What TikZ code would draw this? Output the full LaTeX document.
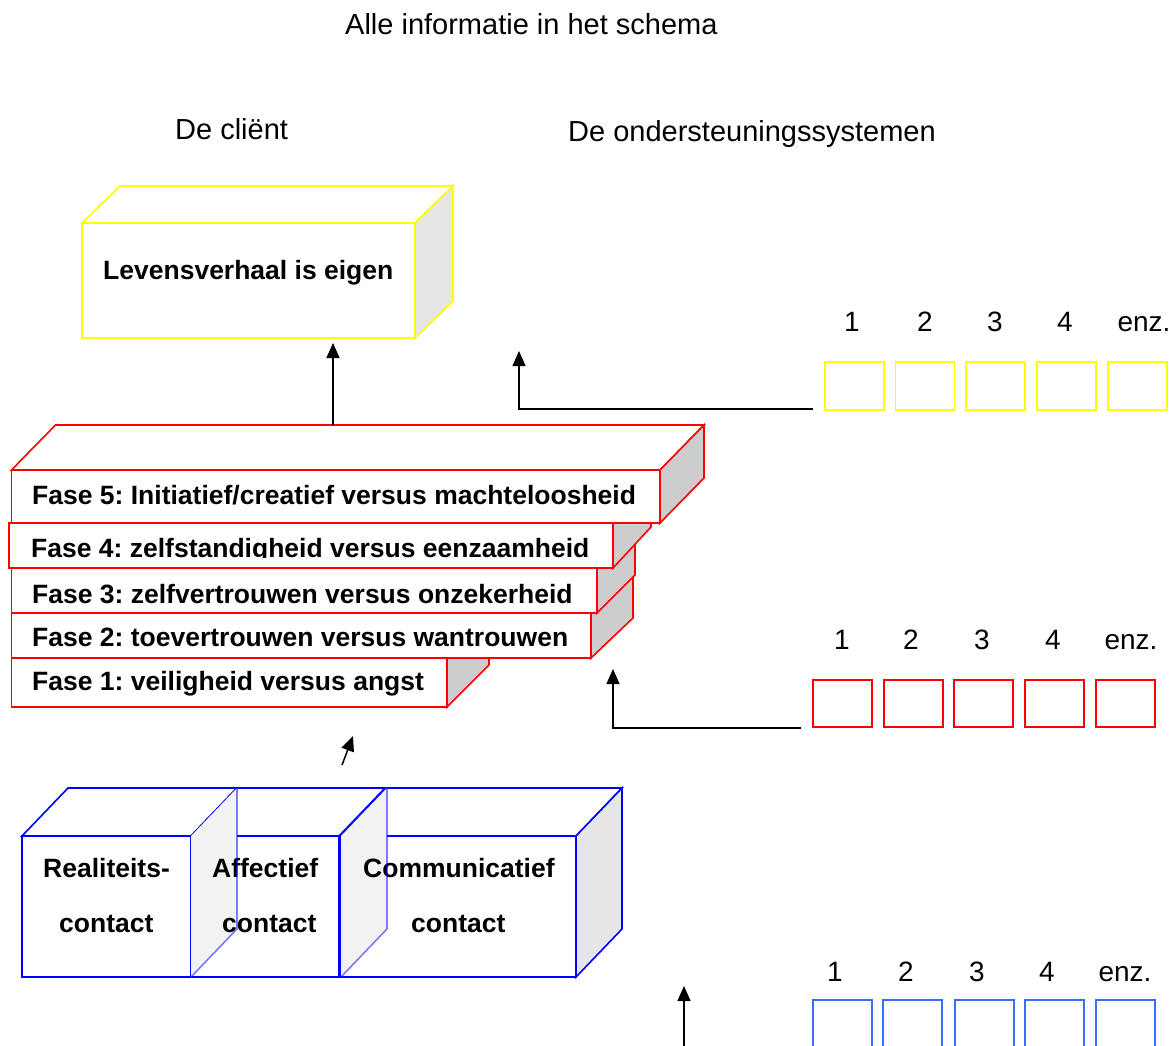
\documentclass[tikz,border=0pt]{standalone}
\usepackage{fontspec}
\setmainfont{Liberation Sans}
\usetikzlibrary{arrows.meta}
\definecolor{ylw}{RGB}{255,255,0}
\definecolor{sqblue}{RGB}{58,110,255}
\definecolor{sideA}{RGB}{230,230,230}
\definecolor{sideR}{RGB}{205,205,205}
\definecolor{ghost}{RGB}{242,242,242}
\begin{document}
\frenchspacing
\begin{tikzpicture}[x=1pt,y=-1pt,
  lbl/.style={font=\fontsize{29}{34}\selectfont, inner sep=0, anchor=base west},
  num/.style={font=\fontsize{28}{32}\selectfont, inner sep=0, anchor=base},
  btxt/.style={font=\fontsize{26.5}{30}\selectfont\bfseries, inner sep=0, anchor=base west},
  lw/.style={line width=1.6pt, line join=miter},
  face/.style={lw, draw, fill=white, inner sep=0, outer sep=0, anchor=north west},
  sq/.style={lw, draw, inner sep=0, outer sep=0, anchor=north west, minimum width=59pt},
  conn/.style={line width=1.5pt, -{Triangle[length=15pt,width=13pt]}}]
\useasboundingbox (0,0) rectangle (1176,1045);
\clip (0,0) rectangle (1176,1045);

% titles
\node[lbl] (title) at (345,34) {Alle informatie in het schema};
\node[lbl] (client) at (175,139) {De cliënt};
\node[lbl] (support) at (568,141) {De ondersteuningssystemen};

% yellow box
\node[face, draw=ylw, minimum width=333pt, minimum height=115pt] (lev) at (82,223) {};
\draw[lw, draw=ylw, fill=white] (lev.north west) -- ++(38,-37) -- ++(333,0) -- (lev.north east) -- cycle;
\draw[lw, draw=ylw, fill=sideA] (lev.north east) -- ++(38,-37) -- ++(0,115) -- (lev.south east) -- cycle;
\node[btxt] (levt) at (103,279) {Levensverhaal is eigen};

% red stack
\node[face, draw=red, minimum width=435.5pt, minimum height=49pt] (f1) at (11.5,658) {};
\draw[lw, draw=red, fill=sideR] (f1.north east) -- ++(42,-42) -- ++(0,49) -- (f1.south east) -- cycle;
\node[btxt] (f1t) at (32,690) {Fase 1: veiligheid versus angst};

\node[face, draw=red, minimum width=579.5pt, minimum height=45pt] (f2) at (11.5,613) {};
\draw[lw, draw=red, fill=sideR] (f2.north east) -- ++(42,-40) -- ++(0,45) -- (f2.south east) -- cycle;
\node[btxt] (f2t) at (32,646) {Fase 2: toevertrouwen versus wantrouwen};

\node[face, draw=red, minimum width=585.5pt, minimum height=45pt] (f3) at (11.5,568) {};
\draw[lw, draw=red, fill=sideR] (f3.north east) -- ++(38,-38) -- ++(0,45) -- (f3.south east) -- cycle;
\node[btxt] (f3t) at (32,603) {Fase 3: zelfvertrouwen versus onzekerheid};

\node[face, draw=red, minimum width=604pt, minimum height=45pt] (f4) at (9,523) {};
\draw[lw, draw=red, fill=sideR] (f4.north east) -- ++(38,-41) -- ++(0,45) -- (f4.south east) -- cycle;
\begin{scope}
  \clip (9,523) rectangle (613,557.5);
  \node[btxt] (f4t) at (31,557) {Fase 4: zelfstandigheid versus eenzaamheid};
\end{scope}

\node[face, draw=red, minimum width=648.5pt, minimum height=53pt] (f5) at (11.5,470) {};
\draw[lw, draw=red, fill=white] (f5.north west) -- ++(44,-45) -- ++(648.5,0) -- (f5.north east) -- cycle;
\draw[lw, draw=red, fill=sideR] (f5.north east) -- ++(44,-45) -- ++(0,53) -- (f5.south east) -- cycle;
\node[btxt] (f5t) at (32,504) {Fase 5: Initiatief/creatief versus machteloosheid};

% blue cubes
\node[face, draw=blue, minimum width=169pt, minimum height=141pt] (c1) at (22,836) {};
\draw[lw, draw=blue, fill=white] (c1.north west) -- ++(46,-48) -- ++(169,0) -- (c1.north east) -- cycle;
\node[face, draw=blue, minimum width=148pt, minimum height=141pt] (c2) at (191,836) {};
\draw[lw, draw=blue, fill=white] (c2.north west) -- ++(46,-48) -- ++(148,0) -- (c2.north east) -- cycle;
\node[face, draw=blue, minimum width=235pt, minimum height=141pt] (c3) at (341,836) {};
\draw[lw, draw=blue, fill=white] (c3.north west) -- ++(46,-48) -- ++(235,0) -- (c3.north east) -- cycle;
\draw[lw, draw=blue, fill=sideA] (c3.north east) -- ++(46,-48) -- ++(0,141) -- (c3.south east) -- cycle;

% translucent hidden faces
\fill[ghost] (c2.north west) -- ++(46,-48) -- ++(0,141) -- (c2.south west) -- cycle;
\fill[ghost] (c3.north west) -- ++(46,-48) -- ++(0,141) -- (c3.south west) -- cycle;

\node[btxt] (c1a) at (43,877) {Realiteits-};
\node[btxt] (c1b) at (59,932) {contact};
\node[btxt] (c2a) at (212,877) {Affectief};
\node[btxt] (c2b) at (222,932) {contact};
\node[btxt] (c3a) at (363,877) {Communicatief};
\node[btxt] (c3b) at (411,932) {contact};

\draw[lw, draw=blue, draw opacity=0.5] (c2.north west) ++(46,-48) -- ++(0,141) -- (c2.south west);
\draw[lw, draw=blue, draw opacity=0.5] (c3.north west) ++(46,-48) -- ++(0,141) -- (c3.south west);

% connectors in the client column
\coordinate (stacktop) at (333,425);
\draw[conn, shorten >=5pt] (stacktop) -- (stacktop |- lev.south);
\coordinate (cubeout) at (342,765);
\coordinate (stackin) at (353,736);
\draw[conn] (cubeout) -- (stackin);

% yellow support system
\foreach \i/\x in {1/825,2/895.5,3/966,4/1037,5/1108}
  \node[sq, draw=ylw, minimum height=48pt] (ys\i) at (\x,362) {};
\node[num] (yn1) at (852,331) {1};
\node[num] (yn2) at (925,331) {2};
\node[num] (yn3) at (995,331) {3};
\node[num] (yn4) at (1065,331) {4};
\node[num] (yn5) at (1144,331) {enz.};
\coordinate (yin) at (813,409);
\coordinate (yout) at (519,351);
\draw[conn] (yin) -| (yout);

% red support system
\foreach \i/\x in {1/813,2/884,3/954,4/1025,5/1096}
  \node[sq, draw=red, minimum height=47pt] (rs\i) at (\x,680) {};
\node[num] (rn1) at (842,649) {1};
\node[num] (rn2) at (911,649) {2};
\node[num] (rn3) at (982,649) {3};
\node[num] (rn4) at (1053,649) {4};
\node[num] (rn5) at (1131,649) {enz.};
\coordinate (rin) at (801,728);
\coordinate (rout) at (613,669);
\draw[conn] (rin) -| (rout);

% blue support system
\foreach \i/\x in {1/813,2/883,3/955,4/1025,5/1096}
  \node[sq, draw=sqblue, minimum height=70pt] (bs\i) at (\x,1000) {};
\node[num] (bn1) at (835,981) {1};
\node[num] (bn2) at (906,981) {2};
\node[num] (bn3) at (977,981) {3};
\node[num] (bn4) at (1047,981) {4};
\node[num] (bn5) at (1125,981) {enz.};
\coordinate (bin) at (684,1046);
\coordinate (bout) at (684,986);
\draw[conn] (bin) -- (bout);
\end{tikzpicture}
\end{document}
